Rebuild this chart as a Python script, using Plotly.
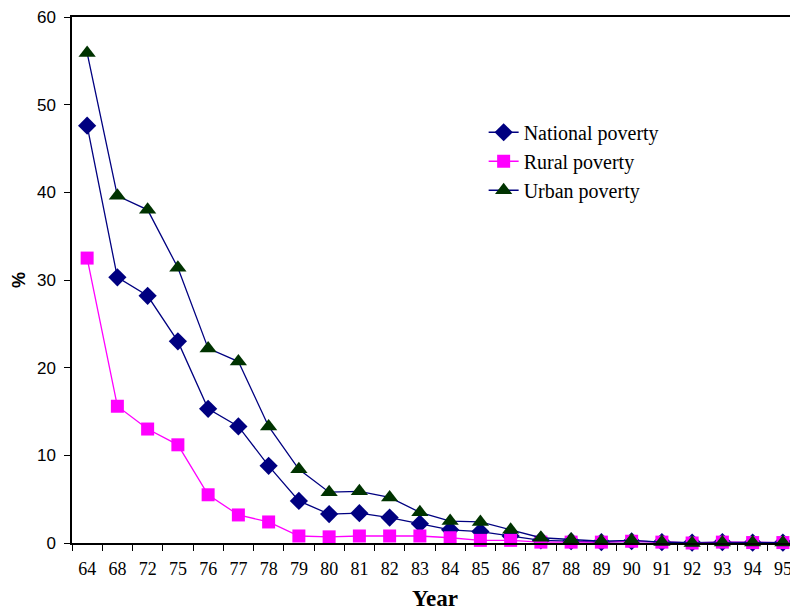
import plotly.graph_objects as go

years = ["64", "68", "72", "75", "76", "77", "78", "79", "80", "81", "82", "83",
         "84", "85", "86", "87", "88", "89", "90", "91", "92", "93", "94", "95"]
national = [47.6, 30.3, 28.2, 23.0, 15.3, 13.3, 8.8, 4.8, 3.3, 3.4, 2.9, 2.2,
            1.5, 1.3, 0.8, 0.3, 0.2, 0.1, 0.2, 0.1, 0.05, 0.1, 0.05, 0.05]
rural = [32.5, 15.6, 13.0, 11.2, 5.5, 3.2, 2.4, 0.8, 0.7, 0.8, 0.8, 0.8,
         0.6, 0.3, 0.3, 0.1, 0.1, 0.1, 0.2, 0.1, 0.0, 0.1, 0.05, 0.05]
urban = [55.9, 39.6, 38.0, 31.4, 22.2, 20.7, 13.3, 8.4, 5.8, 5.9, 5.2, 3.5,
         2.5, 2.4, 1.5, 0.6, 0.4, 0.2, 0.3, 0.1, 0.0, 0.05, 0.05, 0.05]

fig = go.Figure()
fig.add_trace(go.Scatter(x=years, y=national, name="National poverty", mode="lines+markers",
                         line=dict(color="#000080", width=1.3),
                         marker=dict(symbol="diamond", size=14, color="#000080")))
fig.add_trace(go.Scatter(x=years, y=rural, name="Rural poverty", mode="lines+markers",
                         line=dict(color="#FF00FF", width=1.3),
                         marker=dict(symbol="square", size=13, color="#FF00FF")))
fig.add_trace(go.Scatter(x=years, y=urban, name="Urban poverty", mode="lines+markers",
                         line=dict(color="#000080", width=1.3),
                         marker=dict(symbol="triangle-up", size=15, color="#003300")))

fig.update_traces(cliponaxis=False)

# page body has an 8px default margin, so the figure is sized to 790x603
fig.update_layout(
    width=790, height=603,
    margin=dict(l=64, r=0, t=9, b=68),
    paper_bgcolor="white", plot_bgcolor="white",
    showlegend=True,
    legend=dict(x=0.567, y=0.818, xanchor="left", yanchor="top",
                font=dict(family="Liberation Serif", size=20, color="black"),
                bgcolor="rgba(0,0,0,0)", tracegroupgap=0),
    xaxis=dict(type="category", range=[-0.5, 23.5], showgrid=False, automargin=False,
               showline=True, linecolor="black", linewidth=1.5, mirror=True,
               ticks="outside", tickson="boundaries", ticklen=6, tickcolor="black",
               ticklabelstandoff=9, ticklabeloverflow="allow",
               tickfont=dict(family="Liberation Serif", size=18, color="black"),
               title=dict(text="<b>Year</b>", font=dict(family="Liberation Serif", size=23, color="black"),
                          standoff=15)),
    yaxis=dict(range=[0, 60], dtick=10, showgrid=False, zeroline=False, automargin=False,
               showline=True, linecolor="black", linewidth=1.5,
               ticks="outside", ticklen=6, tickcolor="black",
               ticklabelstandoff=5, ticklabeloverflow="allow",
               tickfont=dict(family="Liberation Sans", size=17, color="black"),
               title=dict(text="<b>%</b>", font=dict(family="Liberation Sans", size=18, color="black"),
                          standoff=7)),
)

fig.write_html("out.html")
